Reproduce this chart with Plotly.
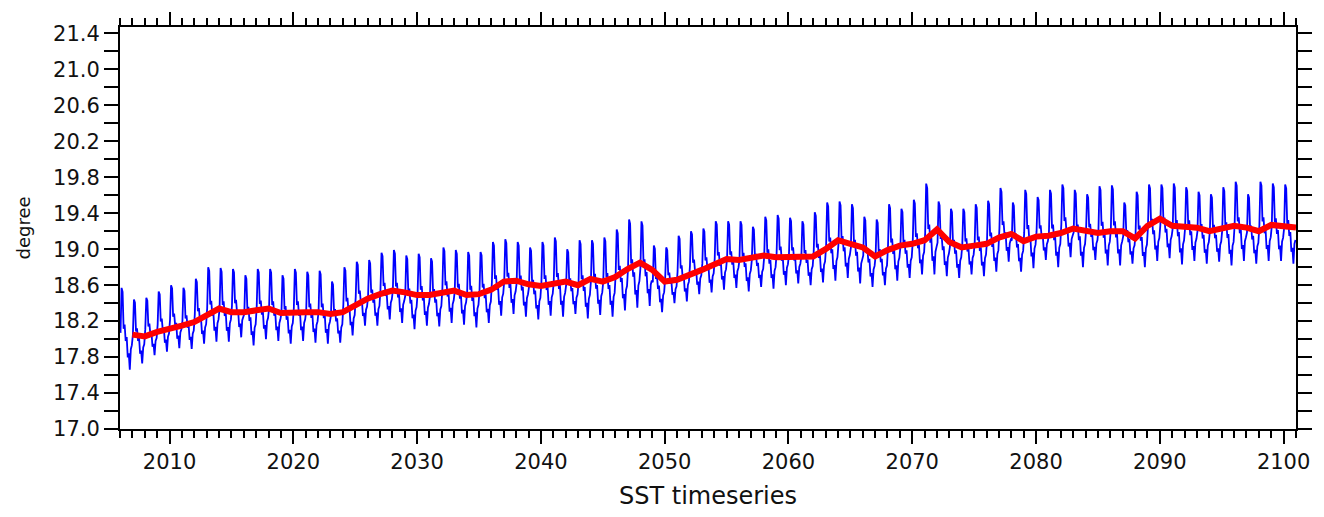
import numpy as np
import plotly.graph_objects as go

# Calendar years of the monthly record (Jan 2006 - Dec 2100)
years = list(range(2006, 2101))

# Annual maximum of the monthly SST (degree)
annual_max = [
    18.57, 18.44, 18.46, 18.53, 18.60, 18.57, 18.67, 18.80, 18.79, 18.78,
    18.71, 18.78, 18.78, 18.71, 18.78, 18.75, 18.76, 18.64, 18.80, 18.86,
    18.88, 18.96, 18.99, 18.93, 18.95, 18.90, 19.02, 18.99, 18.97, 18.97,
    19.08, 19.11, 19.08, 19.02, 19.08, 19.13, 19.00, 19.10, 19.10, 19.13,
    19.22, 19.33, 19.31, 19.04, 19.02, 19.15, 19.20, 19.23, 19.31, 19.31,
    19.31, 19.25, 19.36, 19.38, 19.35, 19.31, 19.41, 19.52, 19.53, 19.50,
    19.36, 19.33, 19.50, 19.45, 19.55, 19.73, 19.53, 19.45, 19.45, 19.50,
    19.54, 19.68, 19.52, 19.66, 19.58, 19.66, 19.72, 19.66, 19.61, 19.70,
    19.71, 19.52, 19.64, 19.72, 19.72, 19.73, 19.69, 19.64, 19.61, 19.69,
    19.75, 19.61, 19.75, 19.73, 19.72,
]

# Annual minimum of the monthly SST (degree)
annual_min = [
    17.66, 17.73, 17.82, 17.86, 17.90, 17.89, 17.95, 17.97, 17.97, 18.02,
    17.93, 18.00, 17.98, 17.95, 17.98, 17.96, 17.95, 17.96, 18.04, 18.15,
    18.15, 18.22, 18.18, 18.11, 18.15, 18.14, 18.18, 18.16, 18.13, 18.18,
    18.26, 18.28, 18.25, 18.22, 18.26, 18.25, 18.28, 18.23, 18.27, 18.25,
    18.32, 18.35, 18.37, 18.30, 18.40, 18.42, 18.50, 18.52, 18.55, 18.57,
    18.53, 18.58, 18.56, 18.60, 18.62, 18.60, 18.63, 18.65, 18.68, 18.62,
    18.58, 18.60, 18.65, 18.68, 18.72, 18.72, 18.70, 18.68, 18.72, 18.70,
    18.75, 18.86, 18.75, 18.79, 18.88, 18.80, 18.91, 18.80, 18.88, 18.82,
    18.82, 18.84, 18.80, 18.87, 18.90, 18.83, 18.87, 18.84, 18.86, 18.82,
    18.87, 18.84, 18.87, 18.87, 18.84,
]

# Position of each calendar month between the annual minimum (0) and maximum (1)
month_position = [0.45, 1.00, 0.95, 0.50, 0.55, 0.35, 0.40, 0.15, 0.20, 0.00, 0.25, 0.30]

# Smoothed series (degree), one value per year-end
smooth_x = list(range(2007, 2102))
smooth_sst = [
    18.05, 18.03, 18.08, 18.11, 18.15, 18.19, 18.26, 18.34, 18.30, 18.30,
    18.32, 18.34, 18.29, 18.30, 18.30, 18.30, 18.28, 18.30, 18.38, 18.45,
    18.50, 18.54, 18.52, 18.49, 18.49, 18.52, 18.54, 18.49, 18.50, 18.55,
    18.64, 18.65, 18.61, 18.59, 18.62, 18.64, 18.60, 18.67, 18.64, 18.69,
    18.78, 18.85, 18.77, 18.64, 18.66, 18.71, 18.77, 18.83, 18.89, 18.88,
    18.90, 18.93, 18.91, 18.91, 18.91, 18.92, 19.00, 19.10, 19.06, 19.02,
    18.92, 18.99, 19.04, 19.06, 19.10, 19.22, 19.08, 19.02, 19.04, 19.06,
    19.13, 19.17, 19.09, 19.14, 19.15, 19.18, 19.23, 19.20, 19.18, 19.20,
    19.20, 19.12, 19.26, 19.34, 19.26, 19.25, 19.24, 19.20, 19.23, 19.26,
    19.24, 19.20, 19.27, 19.25, 19.24,
]

# Monthly series built from each year's range and the month's place in it
mx = np.array(annual_max)
mn = np.array(annual_min)
pos = np.array(month_position)
monthly_sst = (mn[:, None] + pos[None, :] * (mx - mn)[:, None]).ravel()
monthly_x = np.array([y + (m + 0.5) / 12.0 for y in years for m in range(12)])

tick_font = dict(family="DejaVu Sans", size=21, color="#111111")

fig = go.Figure()
fig.add_trace(go.Scatter(
    x=monthly_x, y=monthly_sst, mode="lines",
    line=dict(color="#0000ff", width=1.8), showlegend=False,
))
fig.add_trace(go.Scatter(
    x=smooth_x, y=smooth_sst, mode="lines",
    line=dict(color="#ff0000", width=6), showlegend=False,
))

fig.update_layout(
    width=1324, height=517,
    margin=dict(l=120, r=26, t=23, b=85),
    paper_bgcolor="white", plot_bgcolor="white",
    font=tick_font,
)
fig.update_xaxes(
    range=[2006, 2101], tick0=2010, dtick=10,
    ticks="outside", ticklen=13, tickwidth=1.8, tickcolor="black",
    minor=dict(dtick=1, tick0=2006, ticks="outside", ticklen=7, tickwidth=1.8, tickcolor="black"),
    showline=True, linecolor="black", linewidth=2, mirror="allticks",
    showgrid=False, zeroline=False, tickfont=tick_font,
    title=dict(text="SST timeseries",
               font=dict(family="DejaVu Sans", size=24, color="#111111"), standoff=14),
)
fig.update_yaxes(
    range=[17.0, 21.472], tick0=17.0, dtick=0.4, tickformat=".1f",
    ticks="outside", ticklen=14, tickwidth=1.8, tickcolor="black",
    minor=dict(dtick=0.2, tick0=17.0, ticks="outside", ticklen=14, tickwidth=1.8, tickcolor="black"),
    showline=True, linecolor="black", linewidth=2, mirror="allticks",
    showgrid=False, zeroline=False, tickfont=tick_font,
    title=dict(text="degree",
               font=dict(family="DejaVu Sans", size=18, color="#111111"), standoff=18),
)

fig.write_html("out.html")
